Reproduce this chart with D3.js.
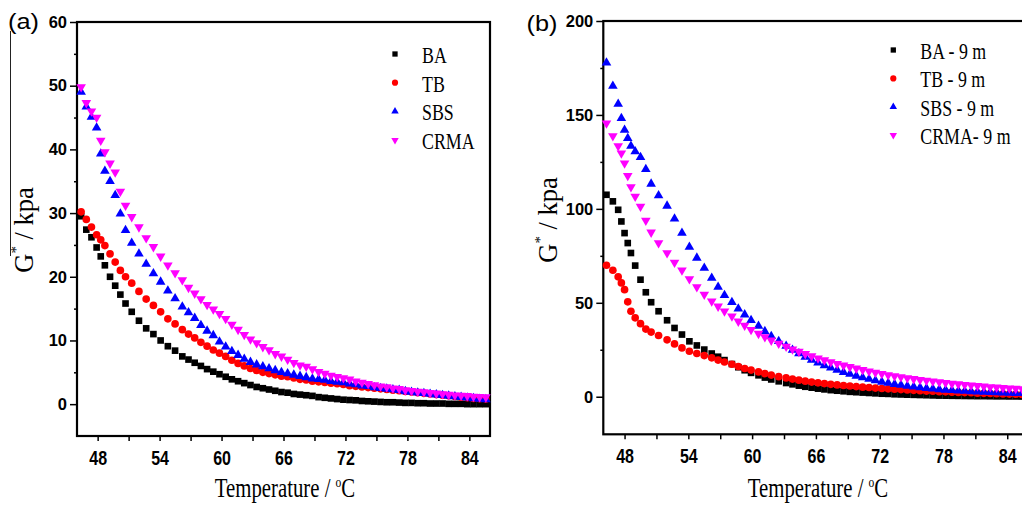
<!DOCTYPE html>
<html>
<head>
<meta charset="utf-8">
<script src="https://cdn.jsdelivr.net/npm/d3@7"></script>
<style>
  body { margin: 0; background: #fff; }
  svg { display: block; }
</style>
</head>
<body>
<div class="chart"></div>
<script>
// ---- panel (a) data: G* (kPa) vs temperature (°C)
const tempA = [46.4, 46.9, 47.4, 47.9, 48.3, 48.7, 49.2, 49.7, 50.2, 50.7,
  51.3, 52.0, 52.7, 53.4, 54.1, 54.8, 55.5, 56.2, 56.8, 57.4,
  58.0, 58.6, 59.2, 59.8, 60.4, 61.0, 61.6, 62.2, 62.8, 63.4,
  64.0, 64.6, 65.2, 65.8, 66.4, 67.0, 67.6, 68.2, 68.8, 69.4,
  70.0, 70.6, 71.2, 71.8, 72.4, 73.0, 73.6, 74.2, 74.8, 75.4,
  76.0, 76.6, 77.2, 77.8, 78.4, 79.0, 79.6, 80.2, 80.8, 81.4,
  82.0, 82.6, 83.2, 83.8, 84.4, 85.0, 85.6];
const baA = [29.5, 27.4, 26.2, 24.6, 23.2, 21.8, 20.0, 18.6, 17.2, 15.8,
  14.5, 13.1, 11.9, 11.0, 10.0, 9.1, 8.4, 7.5, 7.0, 6.5,
  6.0, 5.5, 5.1, 4.7, 4.3, 3.9, 3.6, 3.3, 3.0, 2.7,
  2.5, 2.3, 2.1, 1.9, 1.8, 1.6, 1.5, 1.4, 1.3, 1.1,
  1.0, 0.9, 0.8, 0.7, 0.65, 0.6, 0.5, 0.45, 0.4, 0.35,
  0.3, 0.3, 0.25, 0.2, 0.2, 0.15, 0.15, 0.1, 0.1, 0.1,
  0.05, 0.05, 0.05, 0.0, 0.0, 0.0, 0.0];
const tbA = [30.2, 29.0, 27.8, 26.6, 25.8, 24.9, 23.6, 22.3, 21.0, 20.0,
  19.0, 17.7, 16.5, 15.5, 14.5, 13.4, 12.6, 11.7, 11.0, 10.4,
  9.7, 9.1, 8.5, 8.0, 7.5, 6.9, 6.4, 6.0, 5.6, 5.3,
  5.0, 4.8, 4.6, 4.4, 4.3, 4.1, 3.9, 3.8, 3.6, 3.5,
  3.4, 3.3, 3.2, 3.1, 2.9, 2.8, 2.7, 2.6, 2.5, 2.4,
  2.3, 2.2, 2.1, 2.0, 1.9, 1.8, 1.7, 1.6, 1.5, 1.4,
  1.3, 1.2, 1.1, 1.0, 0.9, 0.85, 0.8];
const sbsA = [49.0, 46.7, 45.1, 43.4, 39.3, 36.6, 35.0, 32.8, 29.9, 27.3,
  25.3, 23.6, 22.0, 20.5, 19.2, 17.8, 16.6, 15.3, 14.4, 13.5,
  12.4, 11.5, 10.8, 9.8, 9.0, 8.3, 7.7, 7.1, 6.6, 6.2,
  5.9, 5.6, 5.3, 5.0, 4.8, 4.6, 4.4, 4.2, 4.0, 3.9,
  3.8, 3.6, 3.5, 3.4, 3.2, 3.1, 2.9, 2.8, 2.6, 2.5,
  2.4, 2.3, 2.2, 2.0, 1.9, 1.8, 1.7, 1.6, 1.5, 1.4,
  1.3, 1.2, 1.1, 1.0, 0.9, 0.8, 0.75];
const crmaA = [49.8, 47.3, 46.0, 45.0, 41.4, 39.6, 37.8, 36.4, 33.4, 31.2,
  29.4, 27.8, 26.1, 24.7, 23.2, 21.8, 20.6, 19.5, 18.3, 17.4,
  16.5, 15.6, 14.9, 14.2, 13.4, 12.5, 11.7, 10.9, 10.2, 9.6,
  9.0, 8.5, 7.9, 7.5, 7.0, 6.5, 6.1, 5.9, 5.5, 5.1,
  4.8, 4.5, 4.3, 4.1, 3.9, 3.6, 3.4, 3.2, 3.0, 2.8,
  2.7, 2.5, 2.4, 2.2, 2.1, 2.0, 1.9, 1.8, 1.7, 1.6,
  1.5, 1.4, 1.35, 1.3, 1.2, 1.15, 1.1];

// ---- panel (b) data: after 9 months
const tempB = [46.3, 46.9, 47.4, 47.7, 48.0, 48.3, 48.6, 49.0, 49.5, 50.0,
  50.5, 51.2, 52.0, 52.7, 53.4, 54.1, 54.8, 55.5, 56.2, 56.8,
  57.4, 58.1, 58.7, 59.3, 59.9, 60.6, 61.2, 61.8, 62.5, 63.2,
  63.8, 64.4, 65.0, 65.6, 66.2, 66.8, 67.4, 68.0, 68.6, 69.2,
  69.8, 70.4, 71.0, 71.6, 72.2, 72.8, 73.4, 74.0, 74.6, 75.2,
  75.8, 76.4, 77.0, 77.6, 78.2, 78.8, 79.4, 80.0, 80.6, 81.2,
  81.8, 82.4, 83.0, 83.6, 84.2, 84.8, 85.4, 86.0];
const baB = [107.5, 104.0, 99.5, 93.3, 87.1, 81.8, 76.5, 69.8, 62.3, 55.6,
  50.3, 45.5, 40.7, 36.6, 33.1, 29.5, 27.3, 25.1, 23.0, 21.3,
  19.5, 17.4, 15.7, 14.1, 12.7, 11.4, 10.2, 9.2, 8.2, 7.3,
  6.6, 5.9, 5.3, 4.8, 4.3, 3.9, 3.5, 3.2, 2.9, 2.6,
  2.4, 2.2, 2.0, 1.8, 1.6, 1.5, 1.3, 1.2, 1.1, 1.0,
  0.9, 0.8, 0.7, 0.6, 0.55, 0.5, 0.45, 0.4, 0.35, 0.3,
  0.3, 0.25, 0.2, 0.2, 0.15, 0.15, 0.1, 0.1];
const tbB = [70.0, 67.3, 63.8, 60.6, 57.0, 50.5, 45.5, 42.0, 38.9, 36.0,
  34.4, 32.6, 30.3, 28.1, 26.0, 24.2, 23.0, 21.9, 20.7, 19.5,
  18.5, 17.3, 16.1, 15.0, 14.2, 13.2, 12.3, 11.5, 10.7, 10.0,
  9.4, 8.8, 8.3, 7.8, 7.4, 7.0, 6.6, 6.3, 6.0, 5.7,
  5.4, 5.1, 4.9, 4.6, 4.4, 4.2, 4.0, 3.8, 3.6, 3.4,
  3.2, 3.0, 2.9, 2.7, 2.6, 2.4, 2.3, 2.2, 2.1, 1.9,
  1.8, 1.7, 1.6, 1.5, 1.4, 1.3, 1.2, 1.1];
const sbsB = [177.8, 165.4, 155.8, 148.2, 142.0, 137.6, 133.5, 130.5, 127.5, 121.1,
  113.3, 107.1, 101.6, 94.7, 87.1, 79.7, 73.9, 68.5, 63.2, 58.4,
  54.0, 50.3, 46.8, 43.7, 40.7, 37.6, 34.8, 32.2, 29.5, 27.0,
  24.9, 23.0, 21.2, 19.6, 18.1, 16.7, 15.4, 14.2, 13.1, 12.1,
  11.1, 10.2, 9.4, 8.6, 7.9, 7.3, 6.7, 6.2, 5.7, 5.3,
  4.9, 4.5, 4.2, 3.9, 3.6, 3.4, 3.2, 3.0, 2.8, 2.6,
  2.5, 2.4, 2.2, 2.1, 2.0, 1.9, 1.8, 1.7];
const crmaB = [145.6, 138.8, 133.5, 129.6, 124.3, 117.6, 111.6, 106.6, 101.3, 93.8,
  87.5, 81.8, 76.5, 71.5, 67.3, 62.7, 58.4, 54.4, 50.8, 48.1,
  45.5, 42.8, 40.1, 37.9, 35.7, 33.6, 31.8, 30.0, 28.3, 26.7,
  25.3, 24.0, 22.8, 21.6, 20.5, 19.5, 18.5, 17.6, 16.7, 15.9,
  15.1, 14.3, 13.6, 12.9, 12.2, 11.6, 11.0, 10.5, 10.0, 9.5,
  9.0, 8.6, 8.2, 7.8, 7.4, 7.0, 6.7, 6.4, 6.1, 5.8,
  5.5, 5.2, 5.0, 4.7, 4.5, 4.3, 4.1, 3.9];

// ---- ticks and labels
const xTicks = [48, 54, 60, 66, 72, 78, 84];
const xMinor = [51, 57, 63, 69, 75, 81];
const yTicksA = [0, 10, 20, 30, 40, 50, 60];
const yMinorA = [5, 15, 25, 35, 45, 55];
const yTicksB = [0, 50, 100, 150, 200];
const yMinorB = [25, 75, 125, 175];
const namesA = ["BA", "TB", "SBS", "CRMA"];
const namesB = ["BA - 9 m", "TB - 9 m", "SBS - 9 m", "CRMA- 9 m"];

const width = 1022;
const height = 505;

const svg = d3.select(".chart").append("svg")
  .attr("width", width)
  .attr("height", height);

const colors = ["#000000", "#ff0000", "#0000ff", "#ff00ff"];
const symbolTypes = [d3.symbolSquare, d3.symbolCircle, d3.symbolTriangle, d3.symbolTriangle];
const markSizes = [44, 46, 40, 40];
const legendSizes = [28, 30, 24, 24];
const serif = "'Liberation Serif', 'Times New Roman', serif";
const sans = "'Liberation Sans', Arial, sans-serif";

// text squeezed horizontally (the figure is a bit narrow)
function squeezed(parent, x, y, sx, size, family, anchor) {
  return parent.append("g")
    .attr("transform", `translate(${x},${y}) scale(${sx},1)`)
    .append("text")
    .attr("text-anchor", anchor)
    .style("font-family", family)
    .style("font-size", size + "px")
    .attr("fill", "#000");
}

function drawPanel(p) {
  const x = d3.scaleLinear().domain([46, 86]).range([p.left, p.right]);
  const y = d3.scaleLinear().domain(p.yDomain).range([p.bottom, p.top]);
  const g = svg.append("g");

  // minor ticks
  g.append("g")
    .attr("transform", `translate(0,${p.bottom})`)
    .call(d3.axisBottom(x).tickValues(xMinor).tickSize(5).tickFormat(""))
    .call(a => a.select(".domain").remove())
    .selectAll("line").attr("stroke-width", 1.5);
  g.append("g")
    .attr("transform", `translate(${p.left},0)`)
    .call(d3.axisLeft(y).tickValues(p.yMinor).tickSize(3).tickFormat(""))
    .call(a => a.select(".domain").remove())
    .selectAll("line").attr("stroke-width", 1.5);

  // major ticks + labels
  const xa = g.append("g")
    .attr("transform", `translate(0,${p.bottom})`)
    .call(d3.axisBottom(x).tickValues(xTicks).tickSize(5).tickPadding(10))
    .call(a => a.select(".domain").remove());
  xa.selectAll("line").attr("stroke-width", 1.5);
  xa.selectAll("text")
    .attr("transform", "scale(0.8,1)")
    .style("font-family", sans)
    .style("font-weight", "bold")
    .style("font-size", "20px");

  const ya = g.append("g")
    .attr("transform", `translate(${p.left},0)`)
    .call(d3.axisLeft(y).tickValues(p.yTicks).tickSize(7).tickPadding(3))
    .call(a => a.select(".domain").remove());
  ya.selectAll("line").attr("stroke-width", 1.5);
  ya.selectAll("text")
    .style("font-family", sans)
    .style("font-weight", "bold")
    .style("font-size", "16.5px");

  // frame
  g.append("rect")
    .attr("x", p.left)
    .attr("y", p.top)
    .attr("width", p.right - p.left)
    .attr("height", p.bottom - p.top)
    .attr("fill", "none")
    .attr("stroke", "#000")
    .attr("stroke-width", 2.2);

  // markers
  p.series.forEach((vals, i) => {
    const sym = d3.symbol().type(symbolTypes[i]).size(markSizes[i]);
    g.append("g")
      .selectAll("path")
      .data(p.temps.map((t, j) => [t, vals[j]]))
      .enter()
      .append("path")
      .attr("d", sym)
      .attr("transform", d => `translate(${x(d[0])},${y(d[1])})` + (i === 3 ? " rotate(180)" : ""))
      .attr("fill", colors[i]);
  });

  // legend
  p.names.forEach((name, i) => {
    const ly = p.legendY + i * p.legendStep;
    g.append("path")
      .attr("d", d3.symbol().type(symbolTypes[i]).size(legendSizes[i]))
      .attr("transform", `translate(${p.legendX},${ly})` + (i === 3 ? " rotate(180)" : ""))
      .attr("fill", colors[i]);
    squeezed(g, p.legendX + 27, ly + 9, 0.76, 23.5, serif, "start").text(name);
  });

  // axis titles
  const xt = squeezed(g, p.xTitleX, 497, 0.77, 27, serif, "middle");
  xt.append("tspan").text("Temperature / ");
  xt.append("tspan").attr("dy", -10).style("font-size", "15px").text("o");
  xt.append("tspan").attr("dy", 10).text("C");

  const yt = g.append("text")
    .attr("transform", `translate(${p.yTitleX},${p.yTitleY}) rotate(-90)`)
    .attr("text-anchor", "middle")
    .style("font-family", serif)
    .style("font-size", "26.5px");
  yt.append("tspan").text("G");
  yt.append("tspan").attr("dy", -12).style("font-size", "15px").text("*");
  yt.append("tspan").attr("dy", 12).text(" / kpa");

  // panel letter
  squeezed(g, p.letterX, p.letterY, 1.15, 22, sans, "start").text(p.letter);
}

drawPanel({
  left: 77, right: 490, top: 22, bottom: 436,
  yDomain: [-5, 60], yTicks: yTicksA, yMinor: yMinorA,
  temps: tempA, series: [baA, tbA, sbsA, crmaA], names: namesA,
  legendX: 395, legendY: 54, legendStep: 28.7,
  xTitleX: 285, yTitleX: 33, yTitleY: 230,
  letter: "(a)", letterX: 8, letterY: 28.5
});

drawPanel({
  left: 603.3, right: 1028.5, top: 21, bottom: 434.3,
  yDomain: [-20, 200], yTicks: yTicksB, yMinor: yMinorB,
  temps: tempB, series: [baB, tbB, sbsB, crmaB], names: namesB,
  legendX: 893.3, legendY: 50, legendStep: 28.4,
  xTitleX: 818, yTitleX: 557, yTitleY: 220,
  letter: "(b)", letterX: 526.5, letterY: 30.5
});

// thin stray rule left of panel (a)
svg.append("line")
  .attr("x1", 10.5).attr("x2", 10.5)
  .attr("y1", 31).attr("y2", 256)
  .attr("stroke", "#222")
  .attr("stroke-width", 1);
</script>
</body>
</html>
